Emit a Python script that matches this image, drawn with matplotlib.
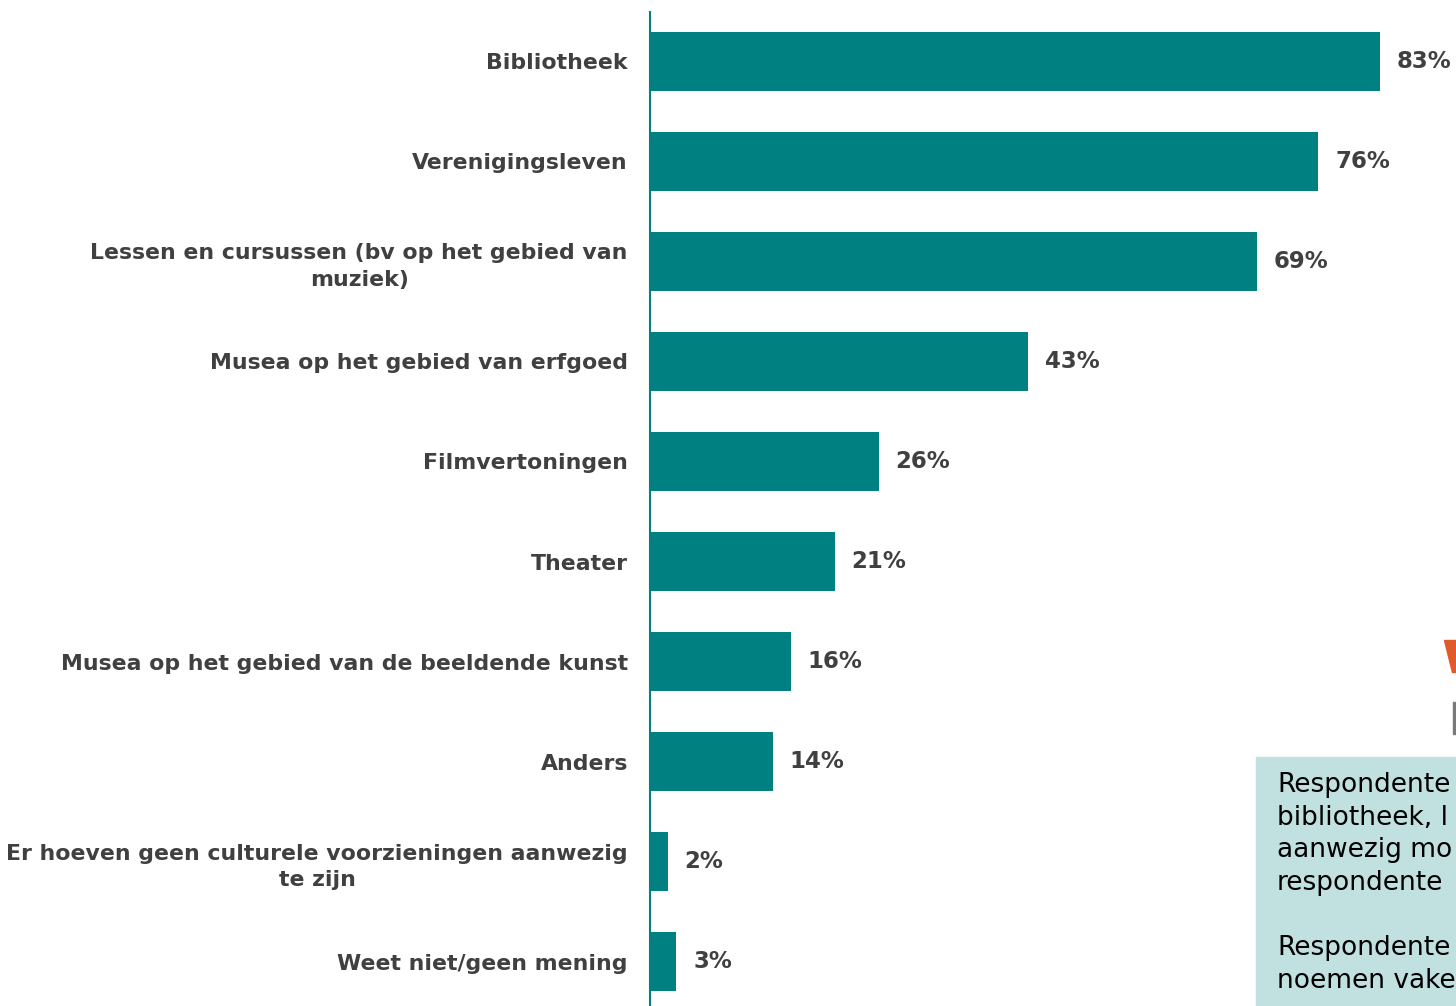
import matplotlib.pyplot as plt
from matplotlib.patches import Rectangle, Polygon

categories = [
    "Bibliotheek",
    "Verenigingsleven",
    "Lessen en cursussen (bv op het gebied van\nmuziek)",
    "Musea op het gebied van erfgoed",
    "Filmvertoningen",
    "Theater",
    "Musea op het gebied van de beeldende kunst",
    "Anders",
    "Er hoeven geen culturele voorzieningen aanwezig\nte zijn",
    "Weet niet/geen mening",
]
values = [83, 76, 69, 43, 26, 21, 16, 14, 2, 3]

# only the visible part of the side note (it runs off the slide)
box_lines = [
    "Respondente",
    "bibliotheek, l",
    "aanwezig mo",
    "respondente",
    "",
    "Respondente",
    "noemen vake",
]

teal = "#008080"
grey = "#404040"

fig = plt.figure(figsize=(14.56, 10.06), dpi=100)
# axes: left edge at x=650px, top at y=12px, running to the bottom
ax = fig.add_axes([650 / 1456, 0, 806 / 1456, 994 / 1006])

ypos = list(range(len(categories)))
ax.barh(ypos, values, height=0.59, color=teal)
ax.set_xlim(0, 806 / 8.795)
ax.set_ylim(9.44, -0.49)

for y, v in zip(ypos, values):
    ax.text(v + 1.9, y, f"{v}%", va="center", ha="left",
            fontsize=16.5, fontweight="bold", color=grey)

ax.set_yticks(ypos)
ax.set_yticklabels(categories, fontsize=15.8, fontweight="bold", color=grey,
                   linespacing=1.4)
for lab in ax.get_yticklabels():
    lab.set_multialignment("center")
ax.tick_params(axis="y", length=0, pad=16)
ax.set_xticks([])

for s in ["top", "right", "bottom"]:
    ax.spines[s].set_visible(False)
ax.spines["left"].set_color(teal)
ax.spines["left"].set_linewidth(1.5)

# side note box in the lower right corner
fig.patches.append(Rectangle((1256 / 1456, 0), 200 / 1456, 249 / 1006,
                             transform=fig.transFigure, color="#c1e0e0", zorder=0))
fig.text(1277 / 1456, 1 - 772 / 1006, "\n".join(box_lines), fontsize=19,
         color="black", va="top", ha="left", linespacing=1.33)

# pieces of an icon cut off at the right edge
fig.patches.append(Polygon([(1444 / 1456, 1 - 640 / 1006), (1456 / 1456, 1 - 640 / 1006),
                            (1456 / 1456, 1 - 672 / 1006), (1452 / 1456, 1 - 672 / 1006)],
                           closed=True, transform=fig.transFigure, color="#e05a2b"))
fig.patches.append(Rectangle((1453 / 1456, 1 - 734 / 1006), 3 / 1456, 32 / 1006,
                             transform=fig.transFigure, color="#7a7a7a"))

fig.savefig("out.png", dpi=100)
